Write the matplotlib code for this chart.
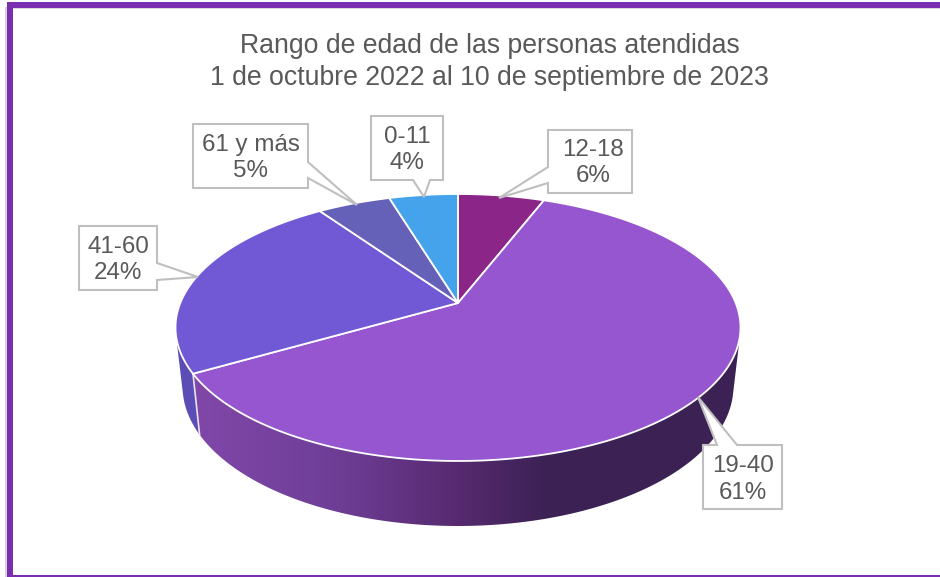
import numpy as np
import matplotlib
matplotlib.use("Agg")
import matplotlib.pyplot as plt
from matplotlib.colors import to_rgb
from matplotlib.patches import Polygon, Rectangle

plt.rcParams['font.family'] = ['Liberation Sans', 'DejaVu Sans']

# slices clockwise from 12 o'clock
groups = ["12-18", "19-40", "41-60", "61 y más", "0-11"]
shares = [5.9, 60.8, 23.6, 5.0, 4.7]
share_labels = ["6%", "61%", "24%", "5%", "4%"]
slice_colors = ["#8B2588", "#9656CF", "#7159D5", "#6560B8", "#44A3EB"]
title_lines = ["Rango de edad de las personas atendidas",
               "1 de octubre 2022 al 10 de septiembre de 2023"]

TEXT = "#595959"
BOX = "#BFBFBF"

# perspective of the pie disc, in pixels
CX, CY = 458, 303
Q, P, C = 277.7, -73.4, 0.1835


def top_ring(t):
    x, y = np.sin(t), np.cos(t)
    w = 1 + C * y
    return CX + Q * x / w, (CY + P * y) / w


def bottom_ring(t):
    x, y = top_ring(t)
    return CX + (x - CX) * 0.975, 526 + (y - 461) * 1.046


def hull(points):
    # monotone chain, the wall of a slice is convex
    pts = sorted(set(map(tuple, points)))

    def half(seq):
        out = []
        for p in seq:
            while len(out) > 1 and ((out[-1][0] - out[-2][0]) * (p[1] - out[-2][1])
                                    - (out[-1][1] - out[-2][1]) * (p[0] - out[-2][0])) <= 0:
                out.pop()
            out.append(p)
        return out[:-1]

    return half(pts) + half(pts[::-1])


def wall_outline(t1, t2):
    ts = np.linspace(t1, t2, 300)
    return hull(np.vstack([np.column_stack(top_ring(ts)), np.column_stack(bottom_ring(ts))]))


fig = plt.figure(figsize=(9.4, 5.77), dpi=100)
ax = fig.add_axes([0, 0, 1, 1])

# frame
ax.add_patch(Rectangle((5, 7), 2, 570, color="#D4D4D4", lw=0))
ax.add_patch(Rectangle((12.5, 8), 928, 1, color="#D9D9D9", lw=0))
ax.add_patch(Rectangle((7, 2), 933, 6, color="#7A2FB0", lw=0))
ax.add_patch(Rectangle((7, 2), 5.5, 575, color="#7A2FB0", lw=0))
ax.add_patch(Rectangle((7, 575.2), 933, 1.5, color="#7A2FB0", lw=0))

edges = np.radians(np.cumsum([0] + shares) * 3.6)

# side wall, only the part that can be seen
ax.add_patch(Polygon(wall_outline(edges[2], edges[3]), closed=True, facecolor="#5B4DB5", lw=0, zorder=1))

stops = [198, 330, 460, 545]
stop_cols = np.array([to_rgb(c) for c in ["#8047A8", "#6F3F98", "#56296F", "#3C2254"]])
grad_x = np.arange(170, 746)
grad = np.stack([np.interp(grad_x, stops, stop_cols[:, i]) for i in range(3)], axis=-1)[None, :, :]
front = Polygon(wall_outline(edges[1], edges[2]), closed=True, facecolor="none", lw=0)
ax.add_patch(front)
im = ax.imshow(grad, extent=(170, 746, 530, 190), aspect="auto", interpolation="bilinear", zorder=1.5)
im.set_clip_path(front)

# line between the two wall colours
xa, ya = top_ring(edges[2])
xb, yb = bottom_ring(edges[2])
ax.plot([xa, xb], [ya, yb], color="#E8E4F0", lw=1.2, zorder=2)

# top of the pie
for i, col in enumerate(slice_colors):
    ts = np.linspace(edges[i], edges[i + 1], 200)
    xs, ys = top_ring(ts)
    pts = np.column_stack([np.r_[CX, xs], np.r_[CY, ys]])
    ax.add_patch(Polygon(pts, closed=True, facecolor=col, edgecolor="white", lw=1.3,
                         joinstyle="round", zorder=3))

# callouts: box corners then the pointer, in pixels
callouts = {
    "12-18": ([(548, 130), (632, 130), (632, 193), (548, 193), (548, 183), (499, 198), (548, 167)], (593, 163)),
    "19-40": ([(703, 445), (717, 445), (698, 397), (737, 445), (782, 445), (782, 509), (703, 509)], (743, 479.5)),
    "41-60": ([(79, 226), (157, 226), (157, 263), (198, 277), (157, 280), (157, 290), (79, 290)], (118, 260)),
    "61 y más": ([(193, 124), (308, 124), (308, 162), (357, 205), (308, 178), (308, 188), (193, 188)], (251, 158)),
    "0-11": ([(371, 116), (443, 116), (443, 180), (430, 180), (424, 197), (413, 180), (371, 180)], (407, 150)),
}
for name, pct in zip(groups, share_labels):
    outline, pos = callouts[name]
    ax.add_patch(Polygon(outline, closed=True, facecolor="white", edgecolor=BOX, lw=1.5, zorder=5))
    ax.text(pos[0], pos[1], name + "\n" + pct, ha="center", va="center", color=TEXT,
            fontsize=17.4, linespacing=1.28, zorder=6)

ax.text(489.5, 62, "\n".join(title_lines), ha="center", va="center", color=TEXT,
        fontsize=19.2, linespacing=1.34)

ax.set_xlim(0, 940)
ax.set_ylim(577, 0)
ax.axis("off")

fig.savefig("out.png", dpi=100)
